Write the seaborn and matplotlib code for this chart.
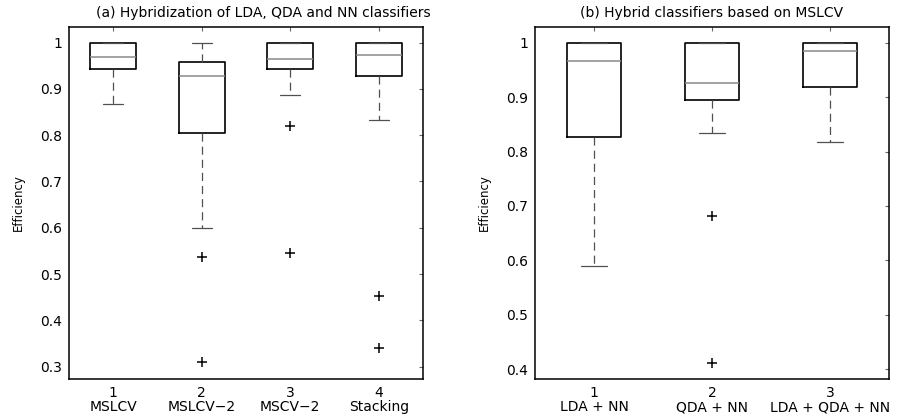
import numpy as np
import pandas as pd
import matplotlib
matplotlib.use("Agg")
import matplotlib.pyplot as plt
from matplotlib.ticker import FuncFormatter
import seaborn as sns

# ---------------- data ----------------
left_methods = ["MSLCV", "MSLCV\u22122", "MSCV\u22122", "Stacking"]
left_mslcv    = [0.868, 0.921, 0.943, 0.955, 0.970, 0.985, 1.0, 1.0, 1.0]
left_mslcv2   = [0.309, 0.537, 0.600, 0.804, 0.862, 0.905, 0.927, 0.940, 0.951, 0.958, 0.975, 0.990, 1.0]
left_mscv2    = [0.546, 0.820, 0.888, 0.943, 0.950, 0.958, 0.965, 0.980, 0.990, 1.0, 1.0, 1.0, 1.0]
left_stacking = [0.340, 0.453, 0.833, 0.928, 0.945, 0.960, 0.974, 0.985, 0.992, 1.0, 1.0, 1.0, 1.0]

right_methods = ["LDA + NN", "QDA + NN", "LDA + QDA + NN"]
right_lda_nn     = [0.589, 0.712, 0.827, 0.915, 0.967, 0.985, 1.0, 1.0, 1.0]
right_qda_nn     = [0.412, 0.682, 0.835, 0.894, 0.905, 0.915, 0.926, 0.950, 0.975, 1.0, 1.0, 1.0, 1.0]
right_lda_qda_nn = [0.817, 0.875, 0.919, 0.960, 0.984, 0.992, 1.0, 1.0, 1.0]

left_yticks = [0.3, 0.4, 0.5, 0.6, 0.7, 0.8, 0.9, 1.0]
right_yticks = [0.4, 0.5, 0.6, 0.7, 0.8, 0.9, 1.0]

titles = ["(a) Hybridization of LDA, QDA and NN classifiers",
          "(b) Hybrid classifiers based on MSLCV"]


def long_frame(methods, series):
    return pd.concat(
        [pd.DataFrame({"method": m, "eff": v}) for m, v in zip(methods, series)],
        ignore_index=True)


df_left = long_frame(left_methods, [left_mslcv, left_mslcv2, left_mscv2, left_stacking])
df_right = long_frame(right_methods, [right_lda_nn, right_qda_nn, right_lda_qda_nn])

# ---------------- style ----------------
sns.set_style("white")
plt.rcParams["font.family"] = ["DejaVu Sans"]
plt.rcParams["axes.linewidth"] = 1.1
plt.rcParams["axes.edgecolor"] = "black"
plt.rcParams["text.color"] = "black"
plt.rcParams["axes.labelcolor"] = "black"

fig = plt.figure(figsize=(9.19, 4.16), dpi=100)
W, H = 919.0, 416.0
ax_l = fig.add_axes([69 / W, 1 - 379 / H, 354 / W, 352 / H])
ax_r = fig.add_axes([535 / W, 1 - 379 / H, 354 / W, 352 / H])

common = dict(
    x="method", y="eff", fill=False, whis=1.5, color="black",
    linewidth=1.1,
    boxprops=dict(color="black", linewidth=1.2),
    medianprops=dict(color="#8a8a8a", linewidth=1.1),
    whiskerprops=dict(color="#505050", linestyle=(0, (6.5, 4)), linewidth=0.9),
    capprops=dict(color="#505050", linewidth=0.9),
    flierprops=dict(marker="+", markeredgecolor="black", markersize=7.5,
                    markeredgewidth=1.1),
)

sns.boxplot(data=df_left, ax=ax_l, order=left_methods, width=0.52,
            capwidths=0.23, **common)
sns.boxplot(data=df_right, ax=ax_r, order=right_methods, width=0.45,
            capwidths=0.22, **common)

fmt = FuncFormatter(lambda v, p: f"{v:g}")

for ax, methods, yt, ylim, title, tx in [
        (ax_l, left_methods, left_yticks, (0.273, 1.034), titles[0], (263 - 69) / 354),
        (ax_r, right_methods, right_yticks, (0.382, 1.029), titles[1], 0.5)]:
    n = len(methods)
    ax.set_xlim(-0.5, n - 0.5)
    ax.set_ylim(*ylim)
    ax.set_yticks(yt)
    ax.yaxis.set_major_formatter(fmt)
    ax.set_xticks(range(n))
    ax.set_xticklabels([f"{i + 1}\n{m}" for i, m in enumerate(methods)],
                       linespacing=1.05)
    ax.set_xlabel("")
    ax.set_ylabel("Efficiency", fontsize=8.5, labelpad=11)
    ax.tick_params(axis="both", direction="in", length=3, width=0.8,
                   color="#666666", labelsize=10, top=True, right=True,
                   labelcolor="black")
    ax.tick_params(axis="y", pad=5)
    ax.tick_params(axis="x", pad=5)
    for s in ax.spines.values():
        s.set_visible(True)
        s.set_color("black")
        s.set_linewidth(1.1)
    ax.text(tx, 1 + 14 / 352, title, transform=ax.transAxes, ha="center",
            va="center", fontsize=10, color="black")

fig.savefig("out.png", dpi=100)
